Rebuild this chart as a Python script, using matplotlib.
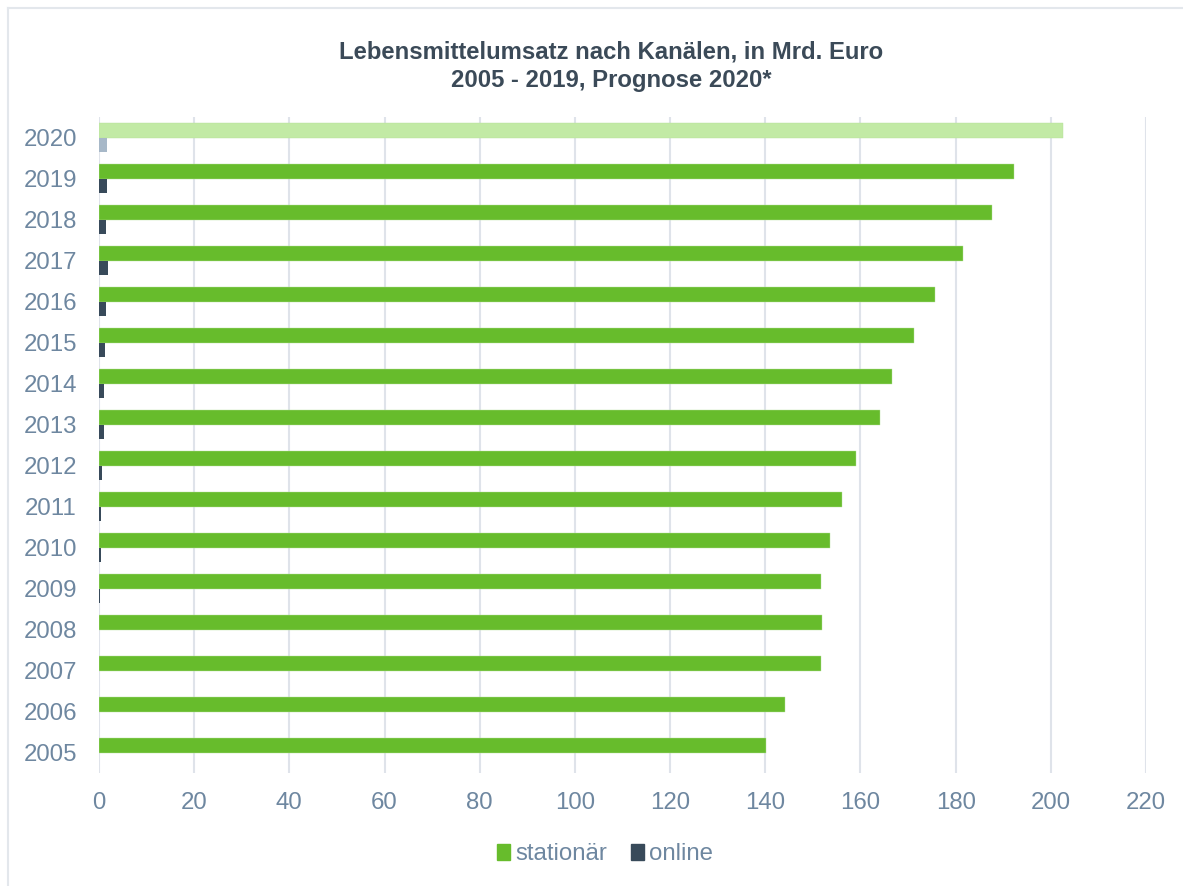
import matplotlib.pyplot as plt
import numpy as np
from matplotlib.lines import Line2D
from matplotlib.patches import Patch

# Data (Mrd. Euro)
years = ["2005", "2006", "2007", "2008", "2009", "2010", "2011", "2012",
         "2013", "2014", "2015", "2016", "2017", "2018", "2019", "2020"]
stationaer = [140.1, 144.1, 151.8, 151.9, 151.8, 153.7, 156.2, 159.0,
              164.1, 166.7, 171.2, 175.7, 181.6, 187.6, 192.3, 202.5]
online = [0.0, 0.0, 0.0, 0.0, 0.2, 0.4, 0.5, 0.7,
          0.95, 1.15, 1.35, 1.4, 1.9, 1.4, 1.6, 1.7]
x_ticks = list(range(0, 221, 20))

GREEN = "#67bc2c"
GREEN_LIGHT = "#c2eaa5"
DARK = "#384a5a"
DARK_LIGHT = "#a7b8c8"
TEXT = "#6e87a0"
TITLE = "#3b4a58"
GRID = "#dfe3ea"

plt.rcParams["font.family"] = ["Liberation Sans", "DejaVu Sans"]

fig = plt.figure(figsize=(11.83, 8.86), dpi=100)
ax = fig.add_axes([99 / 1183, 1 - 773 / 886, (1146 - 99) / 1183, (773 - 117) / 886])

# light frame: only the left and top edges show in the picture
fx, fy = 8 / 1183, 1 - 8 / 886
fig.lines.append(Line2D([fx, fx], [0, fy], transform=fig.transFigure,
                        color="#e3e7ec", linewidth=1.5))
fig.lines.append(Line2D([fx, 1], [fy, fy], transform=fig.transFigure,
                        color="#e3e7ec", linewidth=1.5))

pos = np.arange(len(years))
h = 0.36
off = 0.18

green_cols = [GREEN] * (len(years) - 1) + [GREEN_LIGHT]
dark_cols = [DARK] * (len(years) - 1) + [DARK_LIGHT]

ax.barh(pos + off, stationaer, height=h, color=green_cols,
        edgecolor="#b5e09a", linewidth=0.3, zorder=3)
ax.barh(pos - off, online, height=h, color=dark_cols, linewidth=0, zorder=3)

ax.set_xlim(0, 220)
ax.set_ylim(-0.5, len(years) - 0.5)
ax.set_xticks(x_ticks)
ax.set_xticklabels([str(t) for t in x_ticks])
ax.set_yticks(pos)
ax.set_yticklabels(years)

ax.tick_params(axis="x", length=0, pad=14, labelsize=17.3, labelcolor=TEXT)
ax.tick_params(axis="y", length=0, pad=16, labelsize=17.3, labelcolor=TEXT)

for t in x_ticks:
    ax.axvline(t, color=GRID, linewidth=1.5, zorder=1)

for s in ax.spines.values():
    s.set_visible(False)

fig.text(611 / 1183, 1 - 52 / 886, "Lebensmittelumsatz nach Kanälen, in Mrd. Euro",
         ha="center", va="center", fontsize=17.2, fontweight="bold", color=TITLE)
fig.text(611 / 1183, 1 - 81 / 886, "2005 - 2019, Prognose 2020*",
         ha="center", va="center", fontsize=17.2, fontweight="bold", color=TITLE)

handles = [Patch(color=GREEN, label="stationär"), Patch(color=DARK, label="online")]
fig.legend(handles=handles, loc="center", bbox_to_anchor=(605 / 1183, 1 - 854 / 886),
           ncol=2, frameon=False, fontsize=17.3, labelcolor=TEXT,
           handlelength=0.55, handleheight=0.65, handletextpad=0.2, columnspacing=1.0)

fig.savefig("out.png", dpi=100)
